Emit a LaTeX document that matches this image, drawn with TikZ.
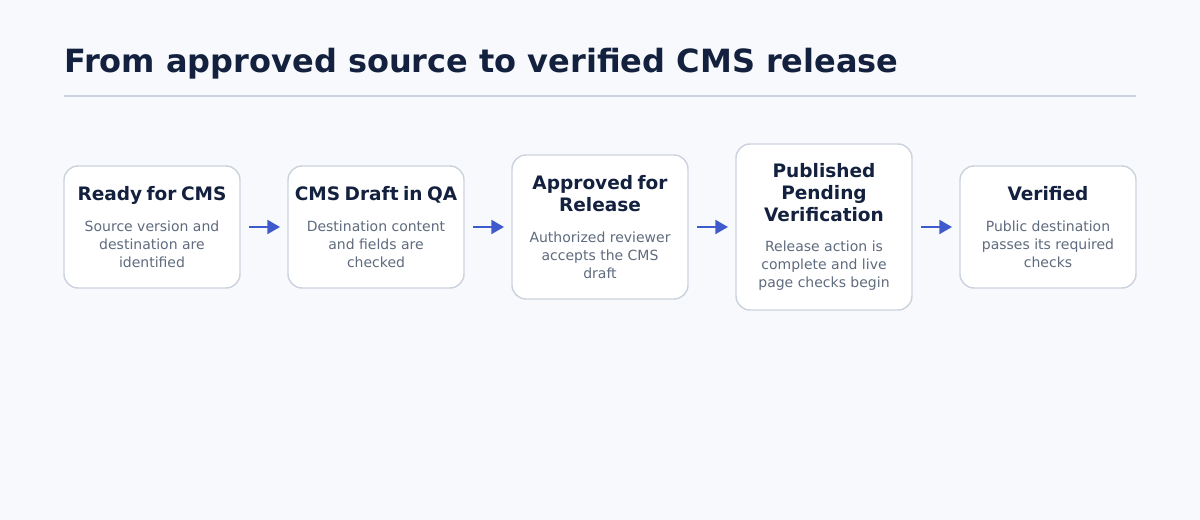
\documentclass[tikz,border=0pt]{standalone}
\usepackage{fontspec}
\setmainfont{DejaVu Sans}
\usepackage{tikz}
\usepackage{xcolor}
\usetikzlibrary{positioning,arrows.meta}

\definecolor{pagebg}{HTML}{F7F9FC}
\definecolor{inkdark}{HTML}{13213F}
\definecolor{inkgray}{HTML}{5F6B7E}
\definecolor{rulegray}{HTML}{CDD3DE}
\definecolor{flowblue}{HTML}{3F5BCB}

\newcommand{\stagehead}[1]{{\fontsize{13.9}{16.5}\selectfont\bfseries\color{inkdark}#1\par}\vspace{9.4pt}}
\newcommand{\stagetext}[1]{{\fontsize{10.5}{13.5}\selectfont\color{inkgray}#1\par}}

\tikzset{
  stage/.style={draw=rulegray, line width=1.1pt, fill=white, rounded corners=10.5pt,
    text width=126pt, inner xsep=3pt, inner ysep=0pt, outer sep=0pt, align=center},
  flow/.style={draw=flowblue, line width=1.6pt, -{Triangle[length=9.5pt,width=10.5pt]},
    shorten <=6.75pt, shorten >=6pt}
}

\begin{document}
\begin{tikzpicture}[x=0.75pt,y=-0.75pt]
  \fill[pagebg] (0,0) rectangle (1200,520);
  \useasboundingbox (0,0) rectangle (1200,520);
  \node[anchor=base west, inner sep=0pt, font=\fontsize{24}{28}\selectfont\bfseries, text=inkdark]
    (heading) at (64,73) {From approved source to verified CMS release};
  \draw[rulegray, line width=1.5pt] (64,96)--(1136,96);

  \node[stage, minimum height=91.5pt] (ready) at (152,227)
    {\stagehead{Ready for CMS}\stagetext{Source version and\\destination are\\identified}};
  \node[stage, minimum height=91.5pt, right=36pt of ready] (draft)
    {\stagehead{CMS Draft in QA}\stagetext{Destination content\\and fields are\\checked}};
  \node[stage, minimum height=108pt, right=36pt of draft] (approved)
    {\stagehead{Approved for\\Release}\stagetext{Authorized reviewer\\accepts the CMS\\draft}};
  \node[stage, minimum height=124.5pt, right=36pt of approved] (published)
    {\stagehead{Published\\Pending\\Verification}\stagetext{Release action is\\complete and live\\page checks begin}};
  \node[stage, minimum height=91.5pt, right=36pt of published] (verified)
    {\stagehead{Verified}\stagetext{Public destination\\passes its required\\checks}};

  \foreach \a/\b in {ready/draft,draft/approved,approved/published,published/verified}
    \draw[flow] (\a)--(\b);
\end{tikzpicture}
\end{document}
